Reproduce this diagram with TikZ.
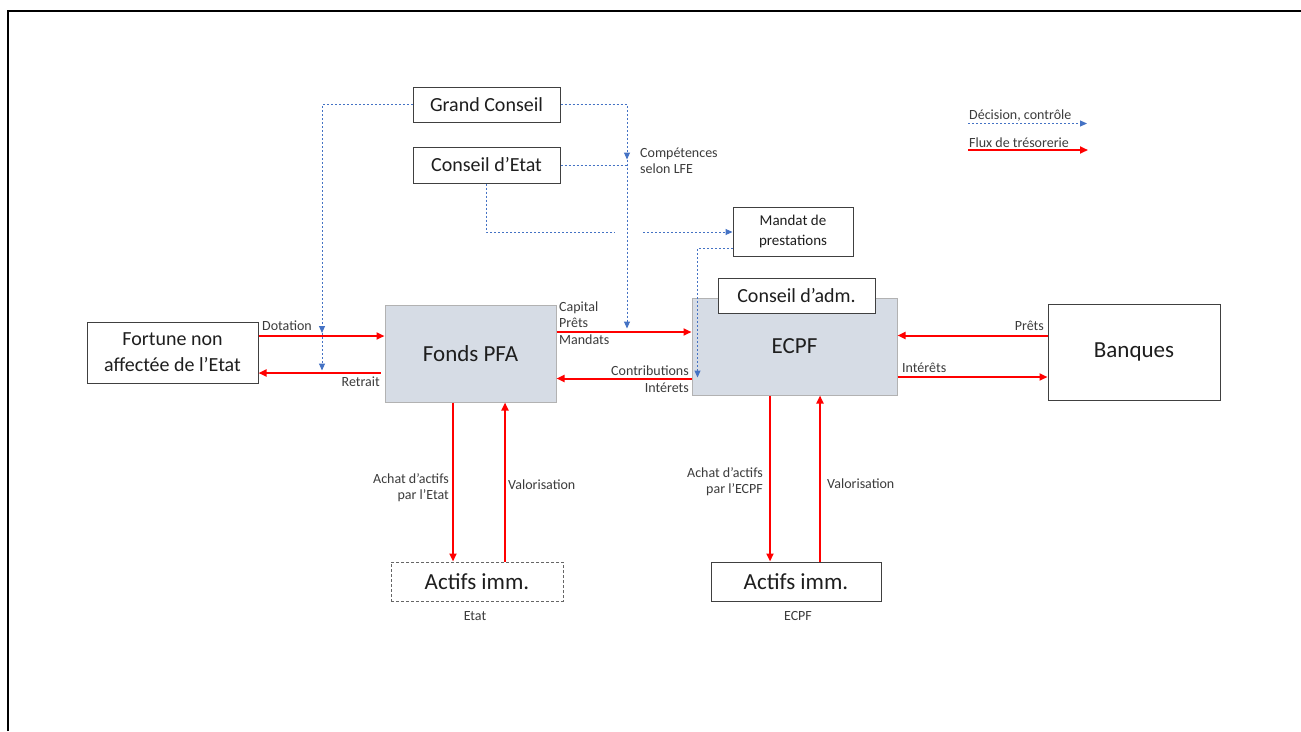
\documentclass[tikz,border=0pt]{standalone}
\usepackage{fontspec}
\setmainfont{Carlito}
\usetikzlibrary{arrows.meta}
\definecolor{boxfill}{RGB}{214,220,229}
\definecolor{ctrlblue}{RGB}{68,114,196}
\definecolor{txt}{RGB}{30,30,30}
\definecolor{labtxt}{RGB}{60,60,60}
\tikzset{
 box/.style={draw=black!75, line width=1pt, fill=white, inner sep=0pt, text=txt, align=center},
 gbox/.style={draw=black!30, line width=1pt, fill=boxfill, inner sep=0pt, text=txt},
 dbox/.style={draw=black!60, line width=1pt, dash pattern=on 3pt off 2pt, fill=white, inner sep=0pt, text=txt},
 flow/.style={draw=red, line width=2pt, -{Triangle[length=8pt,width=7pt]}},
 ctrl/.style={draw=ctrlblue, line width=1pt, dash pattern=on 2pt off 2pt, -{Triangle[length=7pt,width=6pt]}},
 ctrlline/.style={draw=ctrlblue, line width=1pt, dash pattern=on 2pt off 2pt},
 lab/.style={font=\fontsize{14}{16}\selectfont, text=labtxt, inner sep=0pt},
 big/.style={font=\fontsize{20}{26}\selectfont},
 huge/.style={font=\fontsize{23}{28}\selectfont},
}
\begin{document}
\begin{tikzpicture}[x=1pt,y=-1pt]
\useasboundingbox (0,0) rectangle (1301,731);
\fill[white] (0,0) rectangle (1301,731);
\draw[line width=2pt] (7.5,731) -- (7.5,11) -- (1301,11);

% boxes
\node[box, big, minimum width=147pt, minimum height=35pt] (gc) at (486.5,104.5) {Grand Conseil};
\node[box, big, minimum width=147pt, minimum height=36pt] (ce) at (486.5,165) {Conseil d'Etat};
\node[box, font=\fontsize{15}{20}\selectfont, minimum width=120pt, minimum height=49pt] (mp) at (793,231.5) {Mandat de\\prestations};
\node[gbox, huge, minimum width=205pt, minimum height=97pt] (ecpf) at (794.5,346.5) {\raisebox{-4pt}{ECPF}};
\node[box, big, minimum width=157pt, minimum height=35pt] (ca) at (796.5,295.5) {Conseil d'adm.};
\node[gbox, huge, minimum width=171pt, minimum height=97pt] (fpfa) at (470.5,353.5) {Fonds PFA};
\node[box, big, minimum width=171pt, minimum height=61pt] (fort) at (172.5,352.5) {Fortune non\\affectée de l'Etat};
\node[box, huge, minimum width=172pt, minimum height=96pt] (bq) at (1134,352) {Banques};
\node[dbox, huge, minimum width=172pt, minimum height=39pt] (ae) at (477,581.5) {Actifs imm.};
\node[box, huge, minimum width=170pt, minimum height=39pt] (ac) at (796,581.5) {Actifs imm.};
\node[lab, anchor=base] (le) at (475,620) {Etat};
\node[lab, anchor=base] (lc) at (798,620) {ECPF};

% red flows
\draw[flow] (fort.east |- 0,336) -- (fpfa.west |- 0,336);
\node[lab, anchor=base west] (tdot) at (262,330) {Dotation};
\draw[flow] ([xshift=-4pt]fpfa.west |- 0,373) -- (fort.east |- 0,373);
\node[lab, anchor=base east] (tret) at (380,386) {Retrait};
\draw[flow] (fpfa.east |- 0,332) -- (ecpf.west |- 0,332);
\node[lab, anchor=base west] (tcap) at (559,311) {Capital};
\node[lab, anchor=base west] (tpr) at (559,327.5) {Prêts};
\node[lab, anchor=base west] (tman) at (559,344) {Mandats};
\draw[flow] (ecpf.west |- 0,378.5) -- (fpfa.east |- 0,378.5);
\node[lab, anchor=base east] (tcon) at (689,375) {Contributions};
\node[lab, anchor=base east] (tint) at (689,392) {Intérets};
\draw[flow] (bq.west |- 0,335.5) -- (ecpf.east |- 0,335.5);
\node[lab, anchor=base east] (tpb) at (1044,330) {Prêts};
\draw[flow] (ecpf.east |- 0,377) -- (bq.west |- 0,377);
\node[lab, anchor=base west] (tib) at (902,372) {Intérêts};

\draw[flow] (fpfa.south -| 453,0) -- (ae.north -| 453,0);
\draw[flow] (ae.north -| 505,0) -- (fpfa.south -| 505,0);
\node[lab, anchor=base east, align=right] (ta1) at (449,483) {Achat d'actifs};
\node[lab, anchor=base east] (ta2) at (449,499) {par l'Etat};
\node[lab, anchor=base west] (tv1) at (508,489) {Valorisation};

\draw[flow] (ecpf.south -| 770,0) -- (ac.north -| 770,0);
\draw[flow] (ac.north -| 820,0) -- (ecpf.south -| 820,0);
\node[lab, anchor=base east] (tb1) at (763,477) {Achat d'actifs};
\node[lab, anchor=base east] (tb2) at (763,493) {par l'ECPF};
\node[lab, anchor=base west] (tv2) at (827,488) {Valorisation};

% blue control lines
\coordinate (k1) at (322,333);
\coordinate (k2) at (322,370.5);
\draw[ctrl] (gc.west) -| (k1);
\draw[ctrl] (k1) -- (k2);
\coordinate (k3) at (627,159.5);
\coordinate (k4) at (627,328.5);
\draw[ctrl] (gc.east) -| (k3);
\draw[ctrlline] (ce.east) -- (k3 |- ce.east);
\draw[ctrl] (k3) -- (k4);
\node[lab, anchor=base west] (tcomp1) at (640,157) {Compétences};
\node[lab, anchor=base west] (tcomp2) at (640,173) {selon LFE};
\coordinate (g1) at (615,232);
\coordinate (g2) at (643,232);
\draw[ctrlline] (ce.south) |- (g1);
\draw[ctrl] (g2) -- (mp.west |- g2);
\coordinate (k5) at (697.5,377.5);
\draw[ctrl] (mp.west |- 0,248) -| (k5);

% legend
\node[lab, anchor=base west] (lg1) at (969,119) {Décision, contrôle};
\coordinate (l1a) at (968,123.5);
\coordinate (l1b) at (1087,123.5);
\draw[ctrl] (l1a) -- (l1b);
\node[lab, anchor=base west] (lg2) at (969,147) {Flux de trésorerie};
\coordinate (l2a) at (968,150);
\coordinate (l2b) at (1088,150);
\draw[flow] (l2a) -- (l2b);
\end{tikzpicture}
\end{document}
